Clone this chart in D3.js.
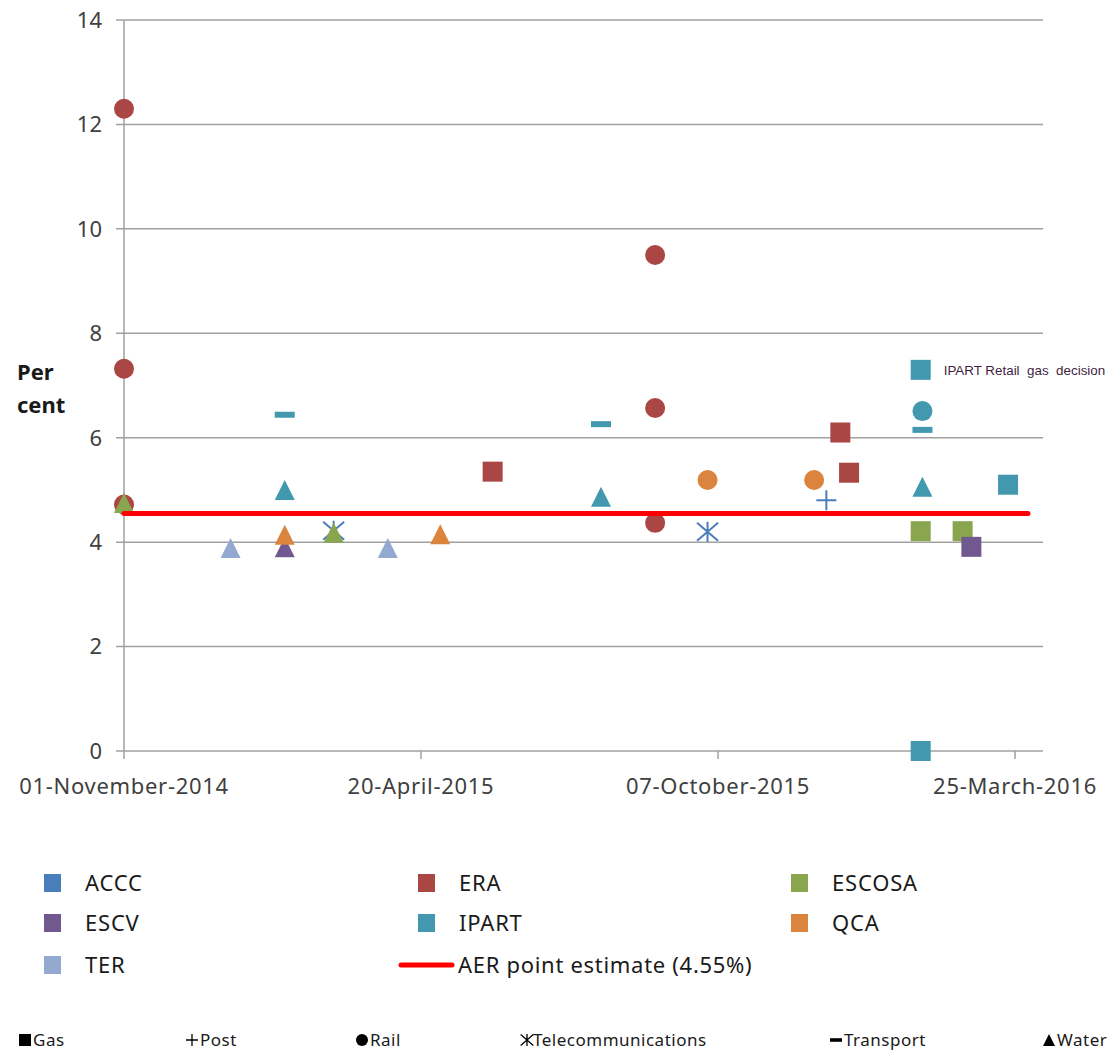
<!DOCTYPE html>
<html><head><meta charset="utf-8">
<script src="https://cdn.jsdelivr.net/npm/d3@7"></script>
<style>body{margin:0;background:#fff;} svg{display:block;}</style>
</head><body>
<svg id="c" width="1117" height="1051"></svg>
<script>
// ---- data ----
const regulators = ["ACCC","ERA","ESCOSA","ESCV","IPART","QCA","TER"];
const regulatorColors = ["#4a7ebb","#aa4643","#89a54e","#71588f","#4198af","#db843d","#93a9cf"];
const sectors = ["Gas","Post","Rail","Telecommunications","Transport","Water"];
const yTicks = [0,2,4,6,8,10,12,14];
const xTickDates = ["2014-11-01","2015-04-20","2015-10-07","2016-03-25"];
const xTickLabels = ["01-November-2014","20-April-2015","07-October-2015","25-March-2016"];
const aerEstimate = 4.55;
// [date, value, sector]
const ERA = [["2014-11-01",12.3,"Rail"],["2014-11-01",7.32,"Rail"],["2014-11-01",4.72,"Rail"],["2015-05-31",5.35,"Gas"],
  ["2015-09-01",9.5,"Rail"],["2015-09-01",6.57,"Rail"],["2015-09-01",4.37,"Rail"],["2015-12-16",6.1,"Gas"],["2015-12-21",5.33,"Gas"]];
const ACCC = [["2015-03-01",4.22,"Telecommunications"],["2015-10-01",4.2,"Telecommunications"],["2015-12-08",4.8,"Post"]];
const ESCOSA = [["2014-11-01",4.75,"Water"],["2015-03-01",4.18,"Water"],["2016-01-31",4.21,"Gas"],["2016-02-24",4.21,"Gas"]];
const ESCV = [["2015-02-01",3.9,"Water"],["2016-02-29",3.91,"Gas"]];
const IPART = [["2015-02-01",6.44,"Transport"],["2015-02-01",5.0,"Water"],["2015-08-01",6.26,"Transport"],["2015-08-01",4.87,"Water"],
  ["2016-02-01",6.51,"Rail"],["2016-02-01",6.15,"Transport"],["2016-02-01",5.06,"Water"],["2016-01-31",7.3,"Gas"],["2016-01-31",0,"Gas"],["2016-03-21",5.1,"Gas"]];
const QCA = [["2015-02-01",4.14,"Water"],["2015-05-01",4.15,"Water"],["2015-10-01",5.19,"Rail"],["2015-12-01",5.19,"Rail"]];
const TER = [["2015-01-01",3.89,"Water"],["2015-04-01",3.89,"Water"]];
const annotation = {text:"IPART Retail  gas  decision", date:"2016-01-31", value:7.3};

const seriesData = {ACCC, ERA, ESCOSA, ESCV, IPART, QCA, TER};
// ---- drawing ----
const svg = d3.select("#c");
const parse = d3.utcParse("%Y-%m-%d");
const x = d3.scaleUtc().domain([parse("2014-11-01"), parse("2016-04-10")]).range([124, 1043]);
const y = d3.scaleLinear().domain([0,14]).range([751, 20]);
const color = d3.scaleOrdinal().domain(regulators).range(regulatorColors);
const font = "'Noto Sans', sans-serif";

// gridlines
svg.append("g").selectAll("line").data(yTicks).join("line")
  .attr("x1",116).attr("x2",1043).attr("y1",d=>y(d)).attr("y2",d=>y(d))
  .attr("stroke","#a0a0a0").attr("stroke-width",1.5);
// y axis line
svg.append("line").attr("x1",124).attr("x2",124).attr("y1",y(14)).attr("y2",y(0))
  .attr("stroke","#a0a0a0").attr("stroke-width",1.5);
// x ticks
svg.append("g").selectAll("line").data(xTickDates).join("line")
  .attr("x1",d=>x(parse(d))).attr("x2",d=>x(parse(d))).attr("y1",y(0)).attr("y2",y(0)+8)
  .attr("stroke","#a0a0a0").attr("stroke-width",1.5);
// y labels
svg.append("g").selectAll("text").data(yTicks).join("text")
  .attr("x",102).attr("y",d=>y(d)).attr("dy","0.36em").attr("text-anchor","end")
  .attr("font-family",font).attr("font-size",22).attr("fill","#404040").text(d=>d);
// x labels
svg.append("g").selectAll("text").data(xTickDates).join("text")
  .attr("x",d=>x(parse(d))).attr("y",794).attr("text-anchor","middle")
  .attr("font-family",font).attr("font-size",22).attr("letter-spacing",0.7).attr("fill","#404040").text((d,i)=>xTickLabels[i]);
// y title
const yt = svg.append("text").attr("font-family",font).attr("font-size",22).attr("font-weight","bold").attr("fill","#1a1a1a");
yt.append("tspan").attr("x",17).attr("y",380).text("Per");
yt.append("tspan").attr("x",17).attr("y",413).text("cent");

// marker shapes
function markerPath(sector, s){
  const h=s/2;
  switch(sector){
    case "Gas": return `M${-h},${-h}H${h}V${h}H${-h}Z`;
    case "Rail": return d3.symbol(d3.symbolCircle, Math.PI*h*h)();
    case "Water": return `M0,${-h}L${h},${h}L${-h},${h}Z`;
    case "Transport": return `M${-h},${-s*0.15}H${h}V${s*0.15}H${-h}Z`;
    case "Post": return `M${-h},0H${h}M0,${-h}V${h}`;
    case "Telecommunications": return `M0,${-h}V${h}M${-h*1.05},${-h*0.9}L${h*1.05},${h*0.9}M${-h*1.05},${h*0.9}L${h*1.05},${-h*0.9}`;
  }
}
const stroked = s => s==="Post"||s==="Telecommunications";

const drawOrder = ["ERA","ACCC","ESCOSA","ESCV","IPART","QCA","TER"];
const pts = [];
drawOrder.forEach(r=>seriesData[r].forEach(p=>pts.push({reg:r,date:parse(p[0]),value:p[1],sector:p[2]})));
svg.append("g").selectAll("path").data(pts).join("path")
  .attr("transform",d=>`translate(${x(d.date)},${y(d.value)})`)
  .attr("d",d=>markerPath(d.sector,20))
  .attr("fill",d=>stroked(d.sector)?"none":color(d.reg))
  .attr("stroke",d=>stroked(d.sector)?color(d.reg):"none")
  .attr("stroke-width",2);

// AER line
svg.append("line").attr("x1",124).attr("x2",1028).attr("y1",y(aerEstimate)).attr("y2",y(aerEstimate))
  .attr("stroke","#ff0000").attr("stroke-width",5).attr("stroke-linecap","round");

// annotation
svg.append("text").attr("x",x(parse(annotation.date))+23).attr("y",y(annotation.value)).attr("dy","0.36em")
  .attr("font-family","'Liberation Sans', Arial, sans-serif").attr("font-size",13.4).attr("fill","#3f1f3f")
  .attr("xml:space","preserve").style("white-space","pre").text(annotation.text);

// legend regulators
const legItems = regulators.map((r,i)=>({name:r,col:i%3,row:Math.floor(i/3)}));
const colX = [44,418,791];
const rowY = [883,923,965];
const lg = svg.append("g");
legItems.forEach(d=>{
  lg.append("rect").attr("x",colX[d.col]).attr("y",rowY[d.row]-9).attr("width",17).attr("height",18).attr("fill",color(d.name));
  lg.append("text").attr("x",colX[d.col]+41).attr("y",rowY[d.row]).attr("dy","0.36em")
    .attr("font-family",font).attr("font-size",22).attr("letter-spacing",0.8).attr("fill","#1a1a1a").text(d.name);
});
lg.append("line").attr("x1",401).attr("x2",452).attr("y1",rowY[2]).attr("y2",rowY[2])
  .attr("stroke","#ff0000").attr("stroke-width",5).attr("stroke-linecap","round");
lg.append("text").attr("x",458).attr("y",rowY[2]).attr("dy","0.36em")
  .attr("font-family",font).attr("font-size",22).attr("letter-spacing",0.7).attr("fill","#1a1a1a").text(`AER point estimate (${aerEstimate}%)`);

// legend sectors
const sectorX = [25,192,362,527,836,1049];
const sy = 1040;
const sg = svg.append("g");
sectors.forEach((s,i)=>{
  sg.append("path").attr("transform",`translate(${sectorX[i]},${sy})`).attr("d",markerPath(s,12))
    .attr("fill",stroked(s)?"none":"#000").attr("stroke",stroked(s)?"#000":"none").attr("stroke-width",1.3);
  sg.append("text").attr("x",sectorX[i]+(s==="Telecommunications"?6:8)).attr("y",sy).attr("dy","0.36em")
    .attr("font-family",font).attr("font-size",17).attr("letter-spacing",0.5).attr("fill","#1a1a1a").text(s);
});
</script>
</body></html>
